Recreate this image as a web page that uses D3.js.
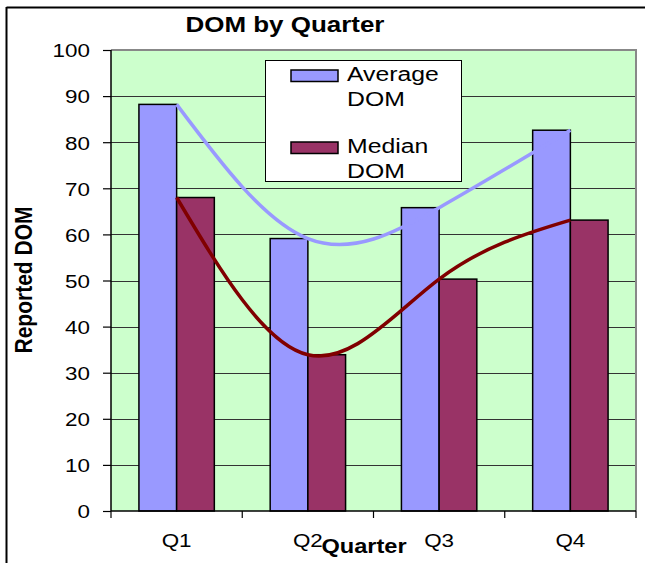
<!DOCTYPE html>
<html><head><meta charset="utf-8">
<script src="https://cdn.jsdelivr.net/npm/d3@7/dist/d3.min.js"></script>
<style>
body{margin:0;background:#fff;}
svg{display:block;font-family:"Liberation Sans",Arial,sans-serif;}
</style></head>
<body>
<svg id="chart" width="645" height="563"></svg>
<script>
const quarters = ["Q1","Q2","Q3","Q4"];
const seriesNames = ["Average DOM","Median DOM"];
const averageDOM = [88.2, 59.1, 65.8, 82.6];
const medianDOM = [68.0, 33.9, 50.3, 63.1];
const yTicks = [0,10,20,30,40,50,60,70,80,90,100];
const colors = ["#9999FF","#993366"];
const lineColors = ["#9999FF","#800000"];

const svg = d3.select("#chart");
const SX = 1.18; // horizontal stretch of text
const L = 111, R = 636, T = 50, B = 511;

// outer frame
svg.append("line").attr("x1",6.5).attr("x2",645).attr("y1",7.5).attr("y2",7.5).attr("stroke","#000").attr("stroke-width",2);
svg.append("line").attr("x1",6.5).attr("x2",6.5).attr("y1",7).attr("y2",563).attr("stroke","#000").attr("stroke-width",2);

const x0 = d3.scaleBand().domain(quarters).range([L,R]).paddingInner(0.4255).paddingOuter(0.2128);
const x1 = d3.scaleBand().domain(seriesNames).range([0,x0.bandwidth()]);
const y = d3.scaleLinear().domain([0,100]).range([B,T]);
const xBound = d3.scaleLinear().domain([0,4]).range([L,R]);

// plot area
svg.append("rect").attr("x",L).attr("y",T).attr("width",R-L).attr("height",B-T).attr("fill","#CCFFCC");
// gridlines
svg.append("g").selectAll("line").data(yTicks.filter(d=>d>0&&d<100)).join("line")
  .attr("x1",L).attr("x2",R).attr("y1",d=>Math.round(y(d))+0.5).attr("y2",d=>Math.round(y(d))+0.5)
  .attr("stroke","#333").attr("stroke-width",1);
// plot border top/right gray
svg.append("path").attr("d",`M${L},${T} H${R} V${B}`).attr("fill","none").attr("stroke","#888").attr("stroke-width",2);

// bars
const data = quarters.map((q,i)=>({q, vals:[averageDOM[i], medianDOM[i]]}));
const gq = svg.append("g").selectAll("g").data(data).join("g").attr("transform",d=>`translate(${x0(d.q)},0)`);
gq.selectAll("rect").data(d=>d.vals.map((v,j)=>({s:seriesNames[j],v,j}))).join("rect")
  .attr("x",d=>x1(d.s)).attr("y",d=>y(d.v)).attr("width",x1.bandwidth()).attr("height",d=>B-y(d.v))
  .attr("fill",d=>colors[d.j]).attr("stroke","#000").attr("stroke-width",1.5);

// smooth lines
[averageDOM, medianDOM].forEach((arr,j)=>{
  const line = d3.line().x((d,i)=>x0(quarters[i])+x0.bandwidth()/2).y(d=>y(d)).curve(d3.curveNatural);
  svg.append("path").attr("d",line(arr)).attr("fill","none").attr("stroke",lineColors[j]).attr("stroke-width",3.5).attr("stroke-linejoin","round");
});

// y axis
const yAxis = d3.axisLeft(y).tickValues(yTicks).tickSize(8).tickPadding(13).tickFormat(d3.format("d"));
const gy = svg.append("g").attr("transform",`translate(${L},0)`).call(yAxis);
gy.select(".domain").attr("stroke","#000").attr("stroke-width",1.5).attr("d",`M0,${T}V${B}`);
gy.selectAll(".tick line").attr("stroke","#000").attr("stroke-width",1.2);
gy.selectAll(".tick text").attr("font-size",19).attr("fill","#000").attr("dy","0.36em")
  .attr("transform",`scale(${SX},1)`).attr("x",-21/SX);

// x axis (boundary ticks)
svg.append("line").attr("x1",L).attr("x2",R).attr("y1",B).attr("y2",B).attr("stroke","#000").attr("stroke-width",1.5);
svg.append("g").selectAll("line").data([0,1,2,3,4]).join("line")
  .attr("x1",d=>xBound(d)).attr("x2",d=>xBound(d)).attr("y1",B).attr("y2",B+7).attr("stroke","#000").attr("stroke-width",1.2);
svg.append("g").selectAll("text").data(quarters).join("text")
  .attr("transform",d=>`translate(${x0(d)+x0.bandwidth()/2},547) scale(${SX},1)`)
  .attr("text-anchor","middle").attr("font-size",19).text(d=>d);

// title
svg.append("text").attr("transform",`translate(285,32) scale(${SX},1)`).attr("text-anchor","middle")
  .attr("font-size",22).attr("font-weight","bold").text("DOM by Quarter");
// x title
svg.append("text").attr("transform",`translate(364,553) scale(${SX},1)`).attr("text-anchor","middle")
  .attr("font-size",20).attr("font-weight","bold").text("Quarter");
// y title
svg.append("text").attr("transform",`translate(32,280) rotate(-90) scale(1,${SX})`).attr("text-anchor","middle")
  .attr("font-size",21).attr("font-weight","bold").text("Reported DOM");

// legend
const lg = svg.append("g");
lg.append("rect").attr("x",265.5).attr("y",60.5).attr("width",196).attr("height",121).attr("fill","#fff").attr("stroke","#000").attr("stroke-width",1);
const legendRows = [{y:70, lines:["Average","DOM"], base:81},{y:142, lines:["Median","DOM"], base:153}];
legendRows.forEach((r,j)=>{
  lg.append("rect").attr("x",291).attr("y",r.y).attr("width",47).attr("height",11.5).attr("fill",colors[j]).attr("stroke","#000").attr("stroke-width",1.5);
  r.lines.forEach((t,k)=>{
    lg.append("text").attr("transform",`translate(347,${r.base+k*25}) scale(${SX},1)`).attr("font-size",21).text(t);
  });
});
</script>
</body></html>
